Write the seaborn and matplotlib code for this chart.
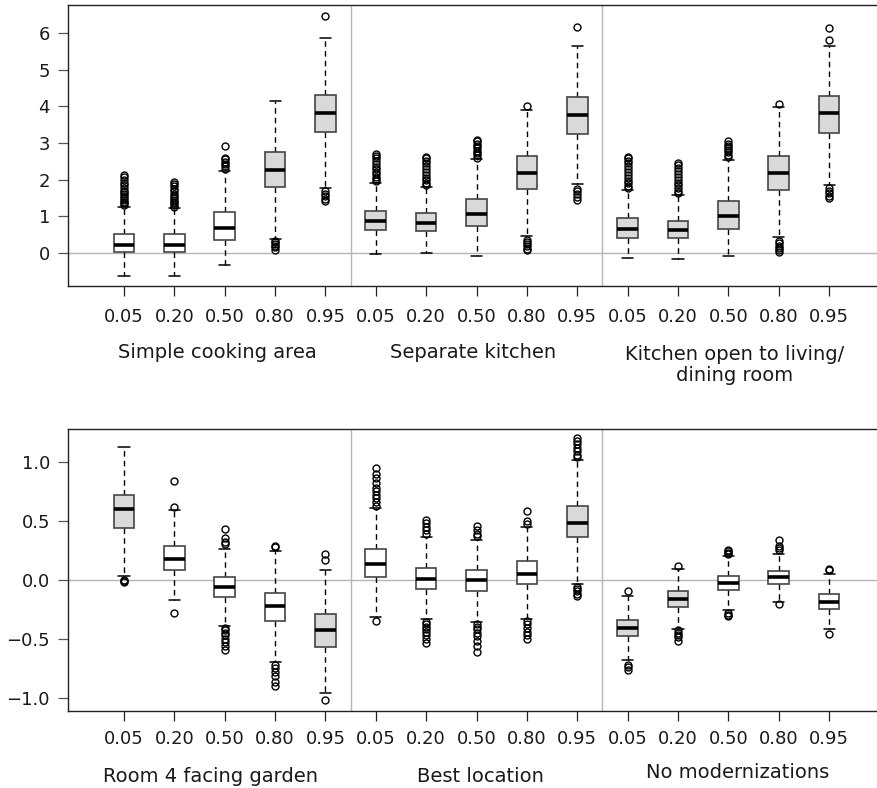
import numpy as np
import pandas as pd
import matplotlib
matplotlib.use("Agg")
import matplotlib.pyplot as plt
import matplotlib.transforms as mtransforms
import seaborn as sns

# ---------------- data ----------------
quantile_labels = ["0.05", "0.20", "0.50", "0.80", "0.95"]

top_groups = ["Simple cooking area", "Separate kitchen", "Kitchen open to living/\ndining room"]
top_whisker_lo = [-0.62, -0.63, -0.33, 0.38, 1.76,
                  -0.04, -0.01, -0.07, 0.47, 1.87,
                  -0.15, -0.17, -0.07, 0.43, 1.85]
top_q1 = [0.02, 0.03, 0.35, 1.79, 3.29,
          0.63, 0.59, 0.73, 1.74, 3.25,
          0.41, 0.40, 0.65, 1.72, 3.28]
top_median = [0.22, 0.22, 0.67, 2.25, 3.81,
              0.88, 0.83, 1.07, 2.18, 3.76,
              0.66, 0.63, 1.02, 2.17, 3.81]
top_q3 = [0.52, 0.51, 1.11, 2.74, 4.32,
          1.15, 1.09, 1.46, 2.64, 4.24,
          0.95, 0.88, 1.43, 2.64, 4.28]
top_whisker_hi = [1.26, 1.22, 2.24, 4.15, 5.85,
                  1.92, 1.81, 2.55, 3.90, 5.65,
                  1.72, 1.58, 2.54, 3.98, 5.65]
top_outliers = [
    [1.30, 1.35, 1.40, 1.45, 1.50, 1.55, 1.60, 1.65, 1.70, 1.78, 1.85, 1.92, 2.00, 2.06, 2.13],
    [1.25, 1.30, 1.35, 1.40, 1.45, 1.50, 1.55, 1.62, 1.68, 1.75, 1.82, 1.88, 1.94],
    [2.30, 2.36, 2.42, 2.48, 2.55, 2.60, 2.92],
    [0.34, 0.30, 0.25, 0.20, 0.15, 0.09],
    [1.68, 1.62, 1.55, 1.48, 1.41, 6.47],
    [1.96, 2.02, 2.08, 2.14, 2.20, 2.28, 2.35, 2.42, 2.50, 2.58, 2.65, 2.70],
    [1.86, 1.92, 1.98, 2.05, 2.12, 2.20, 2.28, 2.36, 2.44, 2.52, 2.58, 2.63],
    [2.60, 2.66, 2.72, 2.78, 2.85, 2.92, 2.98, 3.04, 3.08],
    [0.36, 0.30, 0.24, 0.18, 0.12, 0.08, 4.02],
    [1.75, 1.68, 1.60, 1.52, 1.45, 6.17],
    [1.77, 1.83, 1.90, 1.97, 2.05, 2.12, 2.20, 2.28, 2.36, 2.44, 2.52, 2.58, 2.63],
    [1.63, 1.70, 1.77, 1.84, 1.92, 2.00, 2.08, 2.16, 2.24, 2.32, 2.40, 2.45],
    [2.62, 2.68, 2.74, 2.80, 2.86, 2.92, 2.98, 3.04],
    [0.32, 0.26, 0.20, 0.14, 0.08, 0.03, 4.05],
    [1.76, 1.70, 1.63, 1.56, 1.50, 5.81, 6.14],
]
top_shaded = [False, False, False, True, True,
              True, True, True, True, True,
              True, True, True, True, True]

bot_groups = ["Room 4 facing garden", "Best location", "No modernizations"]
bot_whisker_lo = [0.03, -0.17, -0.39, -0.70, -0.96,
                  -0.32, -0.33, -0.36, -0.33, -0.04,
                  -0.68, -0.42, -0.26, -0.19, -0.42]
bot_q1 = [0.44, 0.08, -0.15, -0.35, -0.57,
          0.02, -0.08, -0.10, -0.04, 0.36,
          -0.48, -0.23, -0.09, -0.04, -0.25]
bot_median = [0.60, 0.18, -0.06, -0.22, -0.43,
              0.13, 0.01, 0.00, 0.05, 0.48,
              -0.41, -0.16, -0.03, 0.02, -0.19]
bot_q3 = [0.72, 0.29, 0.02, -0.11, -0.29,
          0.26, 0.10, 0.08, 0.16, 0.63,
          -0.34, -0.10, 0.03, 0.07, -0.12]
bot_whisker_hi = [1.13, 0.59, 0.26, 0.24, 0.08,
                  0.61, 0.36, 0.34, 0.45, 1.02,
                  -0.14, 0.09, 0.20, 0.22, 0.05]
bot_outliers = [
    [0.00, -0.01, -0.02],
    [0.62, 0.84, -0.28],
    [0.30, 0.32, 0.35, 0.43, -0.41, -0.43, -0.45, -0.47, -0.50, -0.53, -0.56, -0.60],
    [0.28, 0.29, -0.72, -0.75, -0.78, -0.82, -0.87, -0.90],
    [0.17, 0.22, -1.02],
    [0.63, 0.66, 0.69, 0.72, 0.75, 0.78, 0.82, 0.86, 0.90, 0.95, -0.35],
    [0.39, 0.42, 0.45, 0.48, 0.51, -0.36, -0.38, -0.40, -0.42, -0.44, -0.47, -0.50, -0.54],
    [0.37, 0.39, 0.42, 0.46, -0.38, -0.40, -0.42, -0.45, -0.48, -0.52, -0.56, -0.61],
    [0.47, 0.50, 0.58, -0.35, -0.38, -0.41, -0.44, -0.47, -0.50],
    [1.04, 1.06, 1.09, 1.12, 1.15, 1.18, 1.20, -0.06, -0.08, -0.10, -0.12, -0.14],
    [-0.10, -0.72, -0.74, -0.77],
    [0.12, -0.43, -0.45, -0.47, -0.49, -0.52],
    [0.22, 0.23, 0.24, 0.25, -0.28, -0.30, -0.31],
    [0.25, 0.27, 0.29, 0.34, -0.21],
    [0.08, 0.09, -0.46],
]
bot_shaded = [True, False, False, False, True,
              False, False, False, False, True,
              True, True, False, False, False]


def build_frame(wlo, q1, med, q3, whi, outs, shaded):
    """Sample set per box whose quartiles / whiskers / fliers equal the read values."""
    rows = []
    n_rep = 200
    for i in range(len(q1)):
        vals = ([wlo[i]] + [q1[i]] * n_rep + [med[i]] * n_rep + [q3[i]] * n_rep
                + [whi[i]] + list(outs[i]))
        tone = "grey" if shaded[i] else "white"
        rows.extend((i, v, tone) for v in vals)
    return pd.DataFrame(rows, columns=["pos", "value", "tone"])


sns.set_style("ticks")
plt.rcParams["font.family"] = ["DejaVu Sans"]

W, H = 877, 788
fig = plt.figure(figsize=(W / 100, H / 100), dpi=100)

spine_col = "#222222"
grid_col = "#b5b5b5"


def draw_panel(ax, df, ylim, yticks, yfmt, groups, gx, gy, xpad):
    sns.boxplot(
        data=df, x="pos", y="value", hue="tone", order=list(range(15)),
        hue_order=["grey", "white"], palette={"grey": "#d9d9d9", "white": "#ffffff"},
        dodge=False, width=0.41, whis=1.5, legend=False, ax=ax,
        linewidth=1.2, linecolor="#444444", capwidths=0.22,
        boxprops=dict(edgecolor="#444444", linewidth=1.2, zorder=3),
        medianprops=dict(color="black", linewidth=2.6, zorder=4),
        whiskerprops=dict(color="black", linestyle=(0, (4, 3)), linewidth=1.0),
        capprops=dict(color="black", linewidth=1.1),
        flierprops=dict(marker="o", markersize=5, markerfacecolor="none",
                        markeredgecolor="black", markeredgewidth=1.0),
    )
    ax.axhline(0, color=grid_col, lw=1.0, zorder=0)
    for xv in (4.5, 9.5):
        ax.axvline(xv, color=grid_col, lw=1.0, zorder=0)
    ax.set_xlim(-1.112, 14.952)
    ax.set_ylim(*ylim)
    ax.set_yticks(yticks)
    ax.set_yticklabels([yfmt.format(v).replace("-", "\u2212") for v in yticks])
    ax.set_xticks(range(15))
    ax.set_xticklabels(quantile_labels * 3)
    ax.set_xlabel("")
    ax.set_ylabel("")
    ax.spines["right"].set_visible(False)
    for s in ("top", "left", "bottom"):
        ax.spines[s].set_color(spine_col)
        ax.spines[s].set_linewidth(1.0)
    ax.tick_params(axis="x", length=7, width=0.9, color=spine_col, pad=xpad,
                   labelsize=13, labelcolor="#1a1a1a")
    ax.tick_params(axis="y", length=7, width=0.9, color="#555555", pad=6,
                   labelsize=13, labelcolor="#1a1a1a")
    trans = mtransforms.blended_transform_factory(ax.transData, fig.transFigure)
    for label, x, y in zip(groups, gx, gy):
        ax.text(x, 1 - y / H, label, transform=trans, ha="center", va="center",
                fontsize=14, color="#1a1a1a", linespacing=1.15)


ax1 = fig.add_axes([68 / W, 1 - 286 / H, 1 - 68 / W, (286 - 5) / H])
draw_panel(ax1,
           build_frame(top_whisker_lo, top_q1, top_median, top_q3, top_whisker_hi,
                       top_outliers, top_shaded),
           (-0.9, 6.76), [0, 1, 2, 3, 4, 5, 6], "{:.0f}",
           top_groups, [1.85, 6.93, 12.13], [352, 352, 365], 9)

ax2 = fig.add_axes([68 / W, 1 - 710.7 / H, 1 - 68 / W, (710.7 - 429.3) / H])
draw_panel(ax2,
           build_frame(bot_whisker_lo, bot_q1, bot_median, bot_q3, bot_whisker_hi,
                       bot_outliers, bot_shaded),
           (-1.112, 1.277), [-1.0, -0.5, 0.0, 0.5, 1.0], "{:.1f}",
           bot_groups, [1.72, 7.07, 12.19], [776, 776, 772], 7)

fig.savefig("out.png", dpi=100)
